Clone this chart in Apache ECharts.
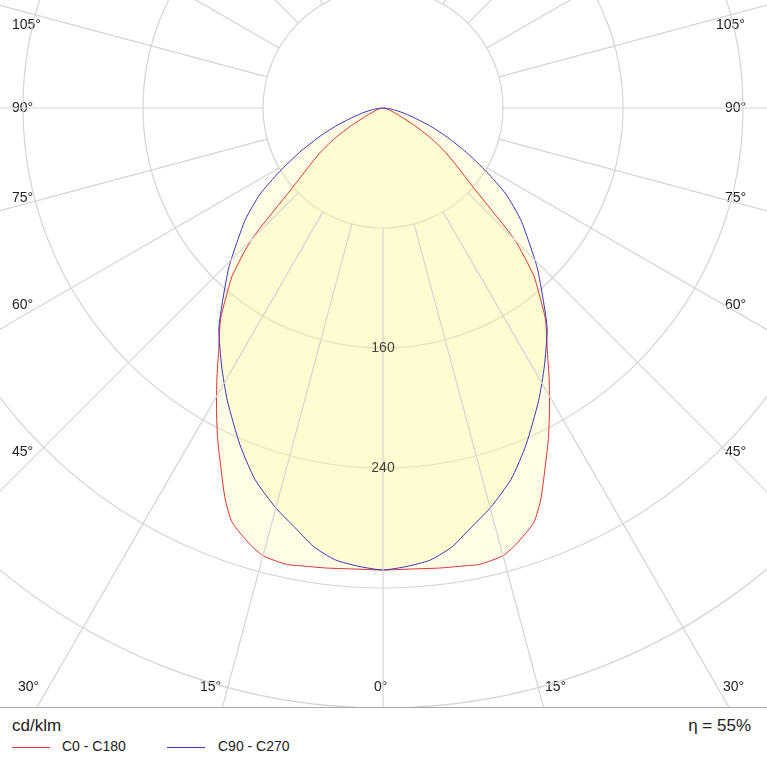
<!DOCTYPE html>
<html>
<head>
<meta charset="utf-8">
<script src="https://cdn.jsdelivr.net/npm/echarts@6/dist/echarts.min.js"></script>
<style>
body{margin:0;background:#fff;font-family:"Liberation Sans",Arial,sans-serif;}
#chart{width:767px;height:707px;border-bottom:1px solid #aaa;}
#foot{position:relative;width:767px;height:59px;color:#222;}
.ln{position:absolute;top:39px;width:38px;height:1px;}
</style>
</head>
<body>
<div id="chart"></div>
<div id="foot">
  <div style="position:absolute;left:12px;top:8px;font-size:17px;">cd/klm</div>
  <div style="position:absolute;right:16px;top:8px;font-size:17px;">η = 55%</div>
  <div class="ln" style="left:12px;background:#e03030;"></div>
  <div style="position:absolute;left:62px;top:30px;font-size:14px;">C0 - C180</div>
  <div class="ln" style="left:167px;background:#3535c0;"></div>
  <div style="position:absolute;left:218px;top:30px;font-size:14px;">C90 - C270</div>
</div>
<script>
// gamma angles (deg) and intensities (cd/klm), symmetric curves
const redAngles = [0, 4, 7, 10, 12, 15, 17, 20, 22, 24, 26.5, 29, 31.5, 34, 37.5, 40, 42, 45, 48.7, 52, 55, 58, 61, 65, 72, 80, 90];
const redValues = [308, 308, 309, 310, 311, 309, 304, 294, 281, 265, 247, 229, 212, 196, 178, 162, 150, 124, 80, 62, 50, 37, 24, 12, 5, 2, 0];
const blueAngles = [0, 3, 6, 9, 11.5, 15, 19, 23, 28, 32, 36.5, 40, 44, 47, 51, 55, 58.4, 62, 65.6, 69, 73, 77, 81, 85, 90];
const blueValues = [308, 306, 303, 296, 287, 276, 262, 244, 221, 203, 184, 166, 148, 134, 118, 100, 81, 63, 47, 34, 21, 13, 7, 3, 0];
const ringLabels = [160, 240];
const angleLabels = [
  ['105°', 12, 18], ['90°', 12, 101], ['75°', 12, 191], ['60°', 12, 298], ['45°', 12, 445], ['30°', 18, 680],
  ['105°', 716, 18], ['90°', 725, 101], ['75°', 725, 191], ['60°', 725, 298], ['45°', 725, 445], ['30°', 723, 680],
  ['15°', 200, 680], ['0°', 374, 680], ['15°', 545, 680]
];

// mirror one half onto the other: right side angle a, left side 360 - a
function closed(angles, values) {
  const pts = [];
  for (let i = angles.length - 1; i >= 0; i--) pts.push([values[i], angles[i]]);
  for (let i = 1; i < angles.length; i++) pts.push([values[i], 360 - angles[i]]);
  return pts;
}

const spokes = [];
for (let a = 0; a < 360; a += 15) {
  spokes.push([80, a], [480, a], '-');
}

const chart = echarts.init(document.getElementById('chart'));
chart.setOption({
  animation: false,
  polar: { center: [383, 108], radius: 720 },
  angleAxis: {
    type: 'value', min: 0, max: 360, startAngle: 270, clockwise: false,
    axisLine: { show: false }, axisTick: { show: false }, axisLabel: { show: false }, splitLine: { show: false }
  },
  radiusAxis: {
    type: 'value', min: 0, max: 480, interval: 80,
    axisLine: { show: false }, axisTick: { show: false }, axisLabel: { show: false },
    splitLine: { lineStyle: { color: '#d4d4d4', width: 1.2 } }
  },
  graphic: angleLabels.map(l => ({
    type: 'text', left: l[1], top: l[2],
    style: { text: l[0], fontSize: 14, fill: '#222', fontFamily: 'Liberation Sans' }
  })),
  series: [
    {
      type: 'line', coordinateSystem: 'polar', data: spokes, symbol: 'none', silent: true,
      lineStyle: { color: '#d4d4d4', width: 1.2 }, z: 3
    },
    {
      type: 'line', coordinateSystem: 'polar', data: closed(redAngles, redValues),
      symbol: 'none', smooth: 0.2,
      lineStyle: { color: '#e03030', width: 1 },
      areaStyle: { color: 'rgba(255,245,150,0.35)' }, z: 2
    },
    {
      type: 'line', coordinateSystem: 'polar', data: closed(blueAngles, blueValues),
      symbol: 'none', smooth: 0.2,
      lineStyle: { color: '#3535c0', width: 1 },
      areaStyle: { color: 'rgba(255,245,150,0.35)' }, z: 2
    },
    {
      type: 'scatter', coordinateSystem: 'polar', symbolSize: 0, z: 10,
      data: ringLabels.map(v => [v, 0]),
      label: { show: true, position: 'inside', formatter: p => p.value[0], fontSize: 14, color: '#111', fontFamily: 'Liberation Sans' }
    }
  ]
});
</script>
</body>
</html>
